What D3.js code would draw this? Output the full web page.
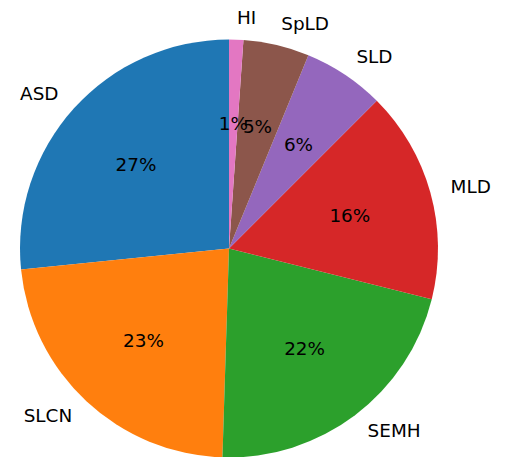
<!DOCTYPE html>
<html>
<head>
<meta charset="utf-8">
<script src="https://cdn.jsdelivr.net/npm/d3@7"></script>
<style>
  body { margin: 0; background: #fff; }
  text { font-family: "DejaVu Sans", sans-serif; fill: #000; }
</style>
</head>
<body>
<div id="chart"></div>
<script>
// datos
const categories = ["ASD", "SLCN", "SEMH", "MLD", "SLD", "SpLD", "HI"];
const values = [26.6, 22.9, 21.6, 16.4, 6.3, 5.1, 1.1];
const colors = ["#1f77b4", "#ff7f0e", "#2ca02c", "#d62728", "#9467bd", "#8c564b", "#e377c2"];

const width = 509;
const height = 457;
const cx = 229;
const cy = 248.5;
const radius = 209;
const fontSize = 18.4;

const svg = d3
  .select("div#chart")
  .append("svg")
  .attr("width", width)
  .attr("height", height);

const g = svg.append("g").attr("transform", `translate(${cx}, ${cy})`);

const data = categories.map((c, i) => ({ name: c, value: values[i], color: colors[i] }));
const total = d3.sum(values);

// matplotlib empieza arriba y va en sentido antihorario
const pie = d3
  .pie()
  .sort(null)
  .value((d) => d.value)
  .startAngle(0)
  .endAngle(-2 * Math.PI);

const arcs = pie(data);

const arc = d3.arc().innerRadius(0).outerRadius(radius);

g.selectAll("path")
  .data(arcs)
  .enter()
  .append("path")
  .attr("d", arc)
  .attr("fill", (d) => d.data.color);

const mid = (d) => (d.startAngle + d.endAngle) / 2;

// etiquetas fuera
g.selectAll("text.label")
  .data(arcs)
  .enter()
  .append("text")
  .attr("class", "label")
  .attr("x", (d) => 1.1 * radius * Math.sin(mid(d)))
  .attr("y", (d) => -1.1 * radius * Math.cos(mid(d)) - 1)
  .attr("text-anchor", (d) => (Math.sin(mid(d)) > 0 ? "start" : "end"))
  .attr("dominant-baseline", "central")
  .style("font-size", fontSize + "px")
  .text((d) => d.data.name);

// porcentajes
g.selectAll("text.pct")
  .data(arcs)
  .enter()
  .append("text")
  .attr("class", "pct")
  .attr("x", (d) => 0.6 * radius * Math.sin(mid(d)))
  .attr("y", (d) => -0.6 * radius * Math.cos(mid(d)))
  .attr("text-anchor", "middle")
  .attr("dominant-baseline", "central")
  .style("font-size", fontSize + "px")
  .text((d) => d3.format(".0f")((d.data.value / total) * 100) + "%");
</script>
</body>
</html>
